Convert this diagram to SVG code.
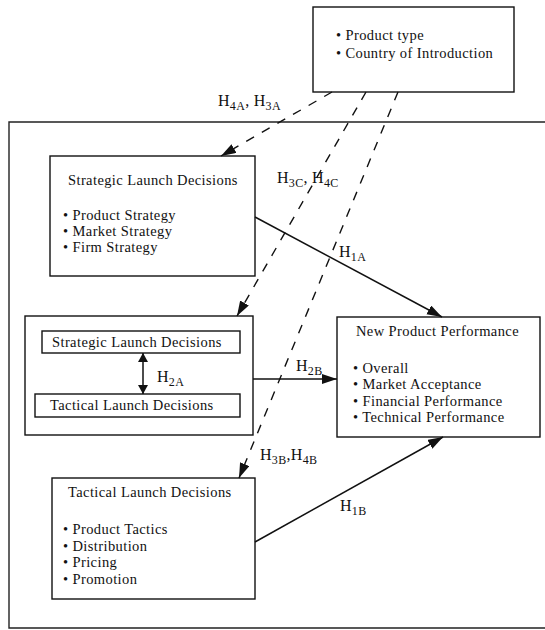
<svg xmlns="http://www.w3.org/2000/svg" width="545" height="630" viewBox="0 0 545 630">
<style>
  .box { fill: #fff; stroke: #111; stroke-width: 1.4; }
  .outer { fill: none; stroke: #222; stroke-width: 1.4; }
  .t { font-family: "Liberation Serif", "Times New Roman", serif; font-size: 14.5px; letter-spacing: 0.4px; fill: #111; }
  .lbl { font-family: "Liberation Serif", "Times New Roman", serif; font-size: 16px; letter-spacing: 0.3px; fill: #111; }
  .sub { font-size: 12px; }
  .solid { fill: none; stroke: #111; stroke-width: 1.5; }
  .dash { fill: none; stroke: #111; stroke-width: 1.4; stroke-dasharray: 9 9; }
</style>
<defs>
  <marker id="ah" markerUnits="userSpaceOnUse" markerWidth="16" markerHeight="12" refX="15" refY="5" orient="auto">
    <path d="M0,0 L15,5 L0,10 z" fill="#111"/>
  </marker>
  <marker id="ah2" markerUnits="userSpaceOnUse" markerWidth="12" markerHeight="12" refX="9" refY="5" orient="auto-start-reverse">
    <path d="M0,0 L9,5 L0,10 z" fill="#111"/>
  </marker>
</defs>

<path class="outer" d="M545,122 H9 V628 H545"/>

<g id="context">
  <rect class="box" x="313" y="7" width="201" height="85"/>
  <text class="t" x="336" y="40">• Product type</text>
  <text class="t" x="336" y="58">• Country of Introduction</text>
</g>

<g id="strategic">
  <rect class="box" x="50" y="156" width="205" height="120"/>
  <text class="t" x="68" y="185">Strategic Launch Decisions</text>
  <text class="t" x="63" y="220">• Product Strategy</text>
  <text class="t" x="63" y="236">• Market Strategy</text>
  <text class="t" x="63" y="252">• Firm Strategy</text>
</g>

<g id="interaction">
  <rect class="box" x="25" y="316" width="228" height="119"/>
  <g id="inner-strategic">
    <rect class="box" x="42" y="331" width="198" height="22"/>
    <text class="t" x="52" y="347">Strategic Launch Decisions</text>
  </g>
  <g id="inner-tactical">
    <rect class="box" x="35" y="394" width="205" height="23"/>
    <text class="t" x="50" y="410">Tactical Launch Decisions</text>
  </g>
</g>

<g id="performance">
  <rect class="box" x="337" y="317" width="203" height="120"/>
  <text class="t" x="356" y="336">New Product Performance</text>
  <text class="t" x="353" y="373">• Overall</text>
  <text class="t" x="353" y="389">• Market Acceptance</text>
  <text class="t" x="353" y="406">• Financial Performance</text>
  <text class="t" x="353" y="422">• Technical Performance</text>
</g>

<g id="tactical">
  <rect class="box" x="52" y="478" width="203" height="121"/>
  <text class="t" x="68" y="497">Tactical Launch Decisions</text>
  <text class="t" x="63" y="534">• Product Tactics</text>
  <text class="t" x="63" y="551">• Distribution</text>
  <text class="t" x="63" y="567">• Pricing</text>
  <text class="t" x="63" y="584">• Promotion</text>
</g>

<g id="connectors">
  <path class="solid" d="M255,217 L442,317" marker-end="url(#ah)"/>
  <path class="solid" d="M253,379 L337,379" marker-end="url(#ah)"/>
  <path class="solid" d="M255,542 L443,437" marker-end="url(#ah)"/>
  <path class="solid" d="M143,353 L143,394" marker-start="url(#ah2)" marker-end="url(#ah2)"/>
  <path class="dash" d="M332,92 L221,156" marker-end="url(#ah)"/>
  <path class="dash" d="M366,92 L237,316" marker-end="url(#ah)"/>
  <path class="dash" d="M398,92 L239,478" marker-end="url(#ah)"/>
</g>

<g id="labels">
  <text class="lbl" x="218" y="106">H<tspan class="sub" dy="4">4A</tspan><tspan dy="-4">, H</tspan><tspan class="sub" dy="4">3A</tspan></text>
  <text class="lbl" x="277" y="183">H<tspan class="sub" dy="4">3C</tspan><tspan dy="-4">, H</tspan><tspan class="sub" dy="4">4C</tspan></text>
  <text class="lbl" x="339" y="257">H<tspan class="sub" dy="4">1A</tspan></text>
  <text class="lbl" x="157" y="382">H<tspan class="sub" dy="4">2A</tspan></text>
  <text class="lbl" x="296" y="371">H<tspan class="sub" dy="4">2B</tspan></text>
  <text class="lbl" x="260" y="460">H<tspan class="sub" dy="4">3B</tspan><tspan dy="-4">,H</tspan><tspan class="sub" dy="4">4B</tspan></text>
  <text class="lbl" x="340" y="511">H<tspan class="sub" dy="4">1B</tspan></text>
</g>
</svg>
